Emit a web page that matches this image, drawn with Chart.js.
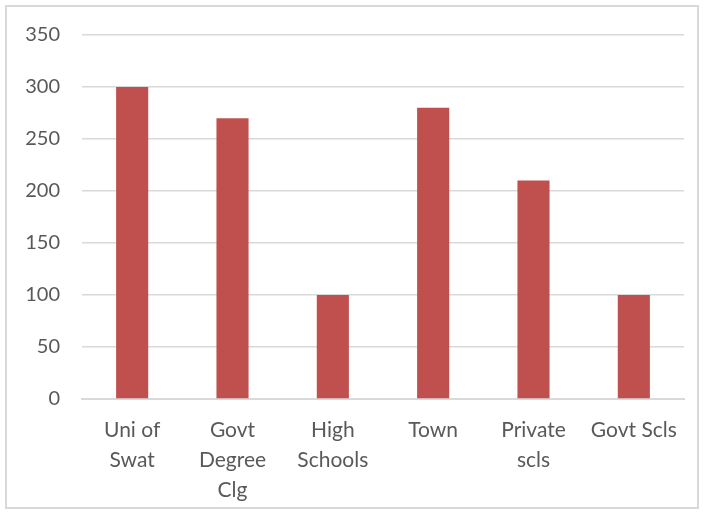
<!DOCTYPE html>
<html>
<head>
<meta charset="utf-8">
<script src="https://cdn.jsdelivr.net/npm/chart.js@4/dist/chart.umd.min.js"></script>
<style>
  html, body { margin: 0; padding: 0; background: #fff; }
  #wrap {
    position: absolute; left: 5px; top: 5px;
    width: 694px; height: 504px;
    border: 2px solid #d9d9d9; box-sizing: border-box;
  }
  canvas { display: block; }
</style>
</head>
<body>
<div id="wrap"><canvas id="c"></canvas></div>
<script>
const categories = [['Uni of', 'Swat'], ['Govt', 'Degree', 'Clg'], ['High', 'Schools'], 'Town', ['Private', 'scls'], 'Govt Scls'];
const values = [300, 270, 100, 280, 210, 100];
const yTicks = [0, 50, 100, 150, 200, 250, 300, 350];

const ctx = document.getElementById('c').getContext('2d');
new Chart(ctx, {
  type: 'bar',
  data: {
    labels: categories,
    datasets: [{
      data: values,
      backgroundColor: '#c0504d',
      barPercentage: 0.64,
      categoryPercentage: 0.5
    }]
  },
  options: {
    responsive: true,
    maintainAspectRatio: false,
    animation: false,
    layout: { padding: { top: 28, right: 13, left: 0, bottom: 0 } },
    plugins: { legend: { display: false }, tooltip: { enabled: false } },
    scales: {
      x: {
        grid: { display: false },
        border: { color: '#d9d9d9', width: 2 },
        afterFit: axis => { axis.height = 108; },
        ticks: {
          color: '#595959',
          font: { family: 'Lato', size: 21, lineHeight: 1.43 },
          padding: 8,
          maxRotation: 0,
          autoSkip: false
        }
      },
      y: {
        min: 0, max: 350,
        afterBuildTicks: axis => { axis.ticks = yTicks.map(v => ({ value: v })); },
        afterFit: axis => { axis.width = 75; axis.paddingTop = 0; axis.paddingBottom = 0; },
        grid: { color: '#d9d9d9', lineWidth: 1.5, drawTicks: false },
        border: { display: false },
        ticks: {
          color: '#595959',
          font: { family: 'Lato', size: 20 },
          padding: 22
        }
      }
    }
  }
});
</script>
</body>
</html>
